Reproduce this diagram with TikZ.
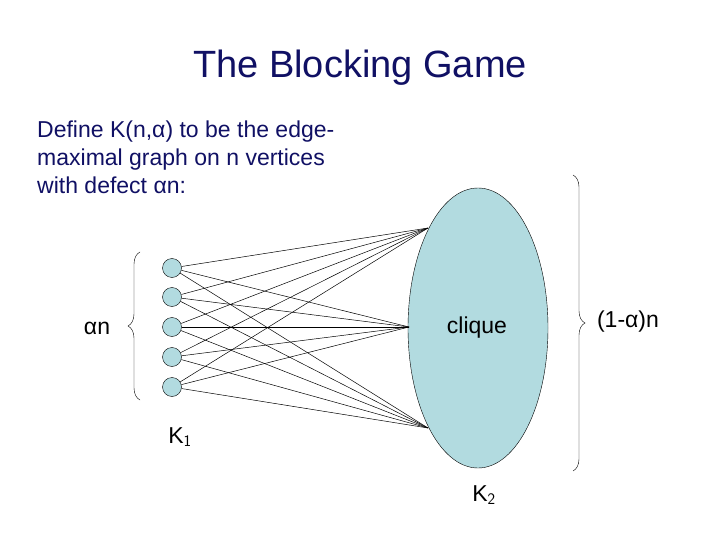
\documentclass[tikz,border=0pt]{standalone}
\usepackage{fontspec}
\setmainfont{Liberation Sans}
\usetikzlibrary{decorations.pathreplacing,shapes.geometric}
\definecolor{navy}{RGB}{16,16,100}
\definecolor{fillb}{RGB}{178,219,224}
\begin{document}
\begin{tikzpicture}[x=1pt,y=-1pt,
  v/.style={circle,draw,fill=fillb,minimum size=19pt,inner sep=0pt},
  txt/.style={font=\fontsize{23}{28}\selectfont,inner sep=0pt},
  e/.style={line width=0.5pt},
  br/.style={decorate,decoration={brace,amplitude=12pt,aspect=0.5}}]
\useasboundingbox (0,0) rectangle (720,540);
\node[font=\fontsize{38}{44}\selectfont,text=navy] (title) at (360,68) {The Blocking Game};
\node[txt,text=navy,anchor=north west,align=left] (def) at (37,121) {Define K(n,α) to be the edge-\\maximal graph on n vertices\\with defect αn:};
\node[ellipse,draw,fill=fillb,minimum width=140pt,minimum height=280pt,inner sep=0pt] (cl) at (478,328) {};
\node[txt] (cliq) at (477,328) {clique};
\foreach \i/\y in {1/268,2/297,3/327,4/357,5/387}{\node[v] (c\i) at (172,\y) {};}
\coordinate (t) at (428,228);
\coordinate (m) at (409,327);
\coordinate (b) at (428,428);
\foreach \i in {1,...,5}{\foreach \p in {t,m,b}{\draw[e] (c\i) -- (\p);}}
\coordinate (lb1) at (140,400);
\coordinate (lb2) at (140,252);
\draw[br] (lb1) -- (lb2);
\node[txt] (an) at (97,328) {αn};
\coordinate (rb1) at (573,175);
\coordinate (rb2) at (573,471);
\draw[br] (rb1) -- (rb2);
\node[txt] (one) at (628,322) {(1-α)n};
\node[txt] (k1) at (180,437) {K$_{\mathsf{1}}$};
\node[txt] (k2) at (484,495) {K$_{\mathsf{2}}$};
\end{tikzpicture}
\end{document}
